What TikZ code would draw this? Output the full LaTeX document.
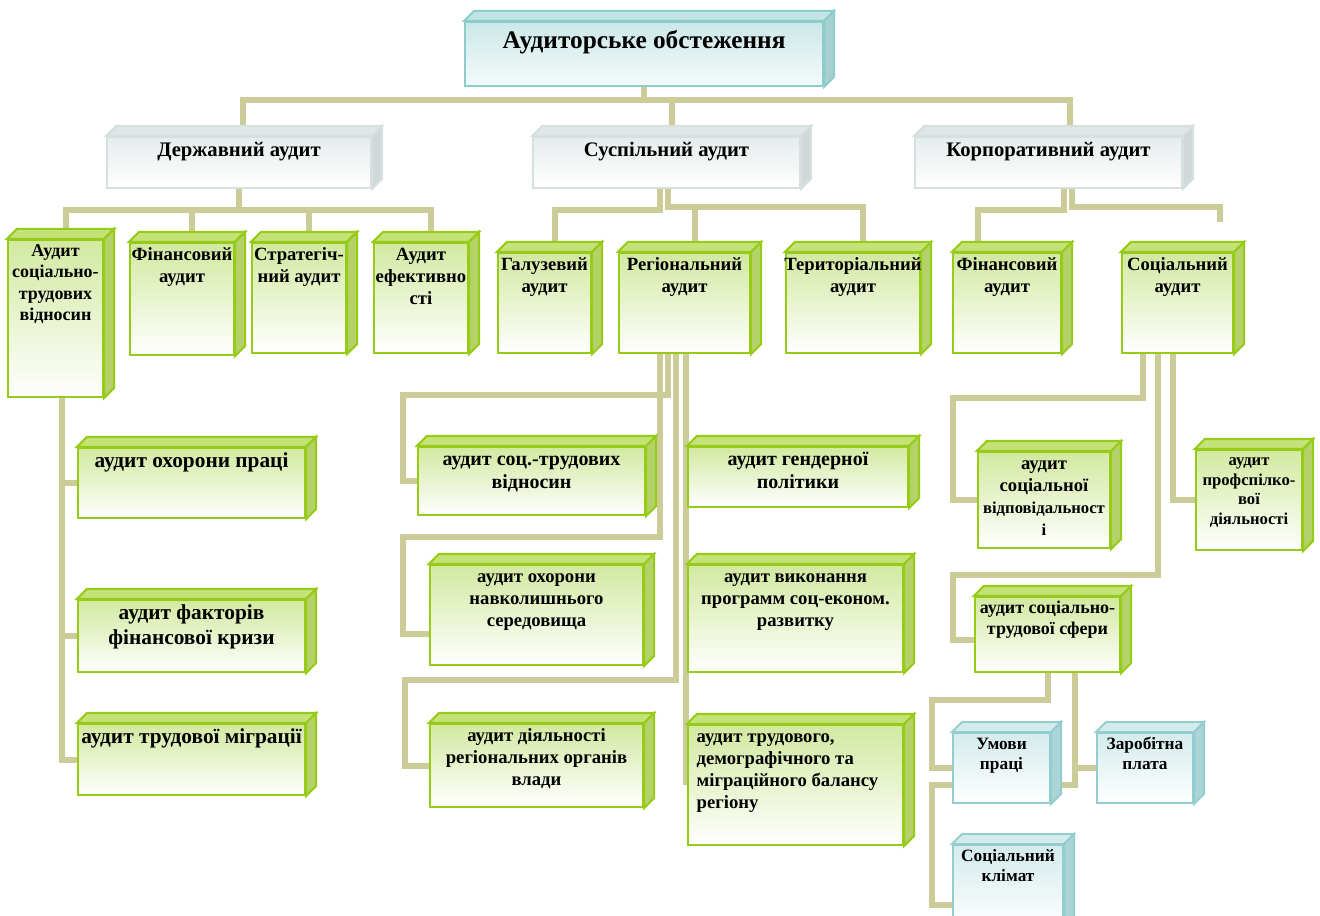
\documentclass[tikz,border=0pt]{standalone}
\usepackage{fontspec}
\setmainfont{Liberation Serif}
\usetikzlibrary{fit,backgrounds}

\definecolor{linkc}{RGB}{204,204,153}
% green boxes
\definecolor{gline}{RGB}{150,204,24}
\definecolor{gface}{RGB}{210,233,160}
\definecolor{gtopc}{RGB}{197,226,121}
\definecolor{gsidec}{RGB}{181,210,106}
% silver boxes
\definecolor{sline}{RGB}{214,224,224}
\definecolor{sface}{RGB}{230,236,236}
\definecolor{stopc}{RGB}{224,230,230}
\definecolor{ssidec}{RGB}{208,216,216}
% title box
\definecolor{cline}{RGB}{140,204,204}
\definecolor{cface}{RGB}{204,232,232}
\definecolor{ctopc}{RGB}{195,228,228}
\definecolor{csidec}{RGB}{166,208,208}
% small teal boxes
\definecolor{tline}{RGB}{147,205,208}
\definecolor{tface}{RGB}{212,235,236}
\definecolor{ttopc}{RGB}{214,236,236}
\definecolor{tsidec}{RGB}{170,212,213}

\tikzset{
  link/.style={draw=linkc, line width=4.5pt},
  fs/.style={font=\fontsize{#1pt}{\dimexpr#1pt*118/100\relax}\selectfont\bfseries},
  txt/.style={anchor=north, align=center, inner xsep=1pt, inner ysep=2pt},
  gfront/.style={draw=gline, line width=1.6pt, inner sep=0pt, top color=gface, bottom color=white},
  gtop/.style={fill=gtopc, draw=gline, line width=1.6pt},
  gside/.style={fill=gsidec, draw=gline, line width=1.6pt},
  sfront/.style={draw=sline, line width=1.5pt, inner sep=0pt, top color=sface, bottom color=white},
  stop/.style={fill=stopc, draw=sline, line width=1.5pt},
  sside/.style={fill=ssidec, draw=sline, line width=1.5pt},
  cfront/.style={draw=cline, line width=1.5pt, inner sep=0pt, top color=cface, bottom color=cface!20!white},
  ctop/.style={fill=ctopc, draw=cline, line width=1.5pt},
  cside/.style={fill=csidec, draw=cline, line width=1.5pt},
  tfront/.style={draw=tline, line width=1.5pt, inner sep=0pt, top color=tface, bottom color=white},
  ttop/.style={fill=ttopc, draw=tline, line width=1.5pt},
  tside/.style={fill=tsidec, draw=tline, line width=1.5pt}
}

\newcommand{\dd}{10}
% kind, name, x1, y1, x2, y2, text options, text
\newcommand{\cube}[8]{%
  \node[#1front, fit={(#3,#4) (#5,#6)}] (#2) {};
  \filldraw[#1top] (#2.north west) -- ++(\dd,-\dd) -- ([shift={(\dd,-\dd)}]#2.north east) -- (#2.north east) -- cycle;
  \filldraw[#1side] (#2.north east) -- ++(\dd,-\dd) -- ([shift={(\dd,-\dd)}]#2.south east) -- (#2.south east) -- cycle;
  \coordinate (#2-b) at ([shift={(\dd,-\dd)}]#2.north);
  \node[txt, #7] (#2-t) at (#2.north) {\strut #8};
}

\begin{document}
\begin{tikzpicture}[x=0.75pt, y=-0.75pt]
  \path[use as bounding box] (0,0) rectangle (1320,916);
  \clip (0,0) rectangle (1320,916);

  % top levels
  \cube{c}{root}{465}{22}{823}{86}{fs=19, yshift=-3pt}{Аудиторське обстеження}
  \cube{s}{dz}{107}{137}{371}{188}{fs=15.5}{Державний аудит}
  \cube{s}{sp}{533}{137}{800}{188}{fs=15.5}{Суспільний аудит}
  \cube{s}{kp}{915}{137}{1182}{188}{fs=15.5}{Корпоративний аудит}

  % state audit
  \cube{g}{ast}{8}{240}{103}{397}{fs=13.5}{Аудит\\соціально-\\трудових\\відносин}
  \cube{g}{fin}{130}{243}{234}{355}{fs=14}{Фінансовий\\аудит}
  \cube{g}{str}{252}{243}{346}{353}{fs=14}{Стратегіч-\\ний аудит}
  \cube{g}{efk}{374}{243}{468}{353}{fs=14}{Аудит\\ефективно\\сті}
  \cube{g}{ohp}{78}{448}{305}{518}{fs=16}{аудит охорони праці}
  \cube{g}{fkr}{78}{600}{305}{672}{fs=16}{аудит факторів\\фінансової кризи}
  \cube{g}{trm}{78}{724}{305}{795}{fs=16}{аудит трудової міграції}

  % public audit
  \cube{g}{hal}{498}{253}{591}{353}{fs=14}{Галузевий\\аудит}
  \cube{g}{reg}{619}{253}{750}{353}{fs=14}{Регіональний\\аудит}
  \cube{g}{ter}{786}{253}{920}{353}{fs=14}{Територіальний\\аудит}
  \cube{g}{stv}{418}{447}{645}{515}{fs=15}{аудит соц.-трудових\\відносин}
  \cube{g}{gen}{688}{447}{908}{507}{fs=15}{аудит гендерної\\політики}
  \cube{g}{onv}{430}{565}{643}{665}{fs=14}{аудит охорони\\навколишнього\\середовища}
  \cube{g}{vpr}{688}{565}{903}{672}{fs=14}{аудит виконання\\программ соц-економ.\\развитку}
  \cube{g}{dro}{430}{724}{643}{807}{fs=14}{аудит діяльності\\регіональних органів\\влади}
  \cube{g}{tdm}{688}{725}{903}{845}{fs=14, align=left, xshift=-6pt}{аудит трудового,\\демографічного та\\міграційного балансу\\регіону}

  % corporate audit
  \cube{g}{kfin}{953}{253}{1061}{353}{fs=14}{Фінансовий\\аудит}
  \cube{g}{soc}{1122}{253}{1233}{353}{fs=14}{Соціальний\\аудит}
  \cube{g}{svd}{978}{452}{1110}{548}{fs=14}{аудит\\соціальної\\{\fontsize{12.5pt}{14pt}\selectfont відповідальност}\\{\fontsize{12.5pt}{14pt}\selectfont і}}
  \cube{g}{prf}{1196}{450}{1302}{550}{fs=12.5}{аудит\\профспілко-\\вої\\діяльності}
  \cube{g}{sts}{975}{597}{1120}{672}{fs=13.5}{аудит соціально-\\трудової сфери}
  \cube{t}{ump}{953}{733}{1050}{803}{fs=13}{Умови\\праці}
  \cube{t}{zpl}{1097}{733}{1193}{803}{fs=13}{Заробітна\\плата}
  \cube{t}{skl}{953}{845}{1063}{930}{fs=13}{Соціальний\\клімат}

  \coordinate (socend) at (1220,222);

  \begin{scope}[on background layer]
    % first and second level
    \draw[link] (root.south) -- (root.south |- 0,100);
    \draw[link] (243,0 |- dz-b) |- (1070,100) -- (1070,0 |- kp-b);
    \draw[link] (672,0 |- sp-b) -- (672,100);
    % under state audit
    \draw[link] (dz.south) -- (dz.south |- 0,210);
    \draw[link] (ast-b) |- (efk-b |- 0,210) -- (efk-b);
    \draw[link] (fin-b) -- (fin-b |- 0,210);
    \draw[link] (str-b) -- (str-b |- 0,210);
    \draw[link] (62,0 |- ast.south) |- (ohp.west);
    \draw[link] (62,0 |- ast.south) |- (fkr.west);
    \draw[link] (62,0 |- ast.south) |- (trm.west);
    % under public audit
    \draw[link] (660,0 |- sp.south) |- (hal-b |- 0,210) -- (hal-b);
    \draw[link] (668,0 |- sp.south) |- (ter-b |- 0,207) -- (ter-b);
    \draw[link] (reg-b) -- (reg-b |- 0,207);
    \draw[link] (668,0 |- reg.south) |- (403,395) |- (stv.west);
    \draw[link] (660,0 |- reg.south) |- (403,537) |- ([yshift=-14.25pt]onv.west);
    \draw[link] (676,0 |- reg.south) |- (405,680) |- (dro.west);
    \draw[link] (686,0 |- reg.south) -- (686,0 |- tdm.west);
    % under corporate audit
    \draw[link] (1064,0 |- kp.south) |- (978,210) -- (978,0 |- kfin-b);
    \draw[link] (1072,0 |- kp.south) |- (1220,207) -- (socend);
    \draw[link] (1143,0 |- soc.south) |- (953,398) |- (svd.west);
    \draw[link] (1158,0 |- soc.south) |- (953,575) |- ([yshift=-4pt]sts.west);
    \draw[link] (1173,0 |- soc.south) |- (prf.west);
    \draw[link] (1048,0 |- sts.south) |- (932,700) |- (ump.west);
    \draw[link] (1075,0 |- sts.south) |- (zpl.west);
    \draw[link] (1075,0 |- sts.south) |- (932,785) |- ([yshift=-12.75pt]skl.west);
  \end{scope}
\end{tikzpicture}
\end{document}
